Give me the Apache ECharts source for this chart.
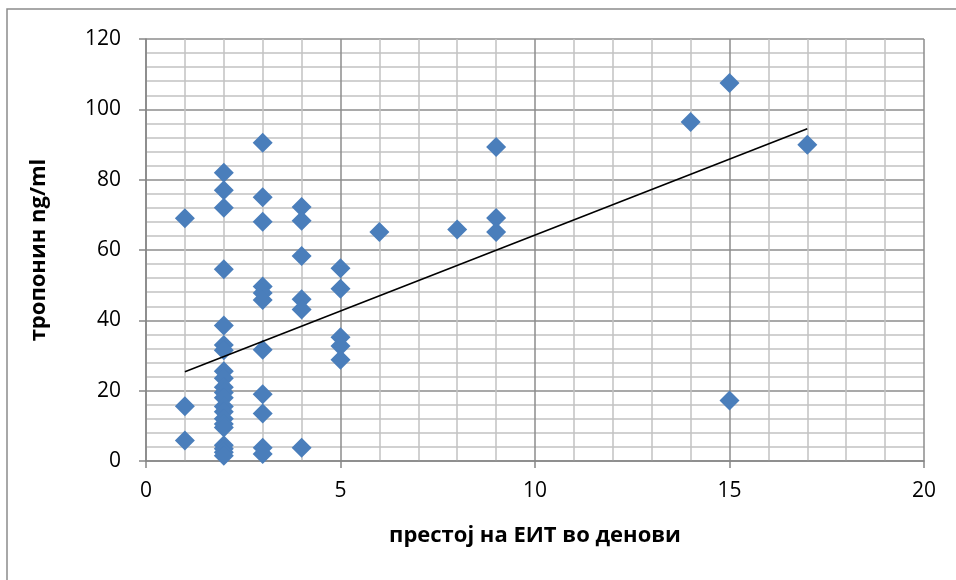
<!DOCTYPE html>
<html>
<head>
<meta charset="utf-8">
<script src="https://cdn.jsdelivr.net/npm/echarts@6/dist/echarts.min.js"></script>
<style>
  html, body { margin: 0; padding: 0; background: #ffffff; }
  #chart { width: 956px; height: 580px; }
</style>
</head>
<body>
<div id="chart"></div>
<script>
// Days in the ICU (x) and troponin level (y) for each patient
const daysInIcu = [
  1, 1, 1,
  2, 2, 2, 2, 2, 2, 2, 2, 2, 2, 2, 2, 2, 2, 2, 2, 2, 2, 2, 2, 2,
  3, 3, 3, 3, 3, 3, 3, 3, 3, 3, 3,
  4, 4, 4, 4, 4, 4,
  5, 5, 5, 5, 5,
  6, 8,
  9, 9, 9,
  14, 15, 15, 17
];
const troponin = [
  69, 15.6, 5.8,
  82, 77, 72, 54.5, 38.5, 33, 31.5, 25.5, 23.5, 21, 19.5, 18, 15.5, 14, 12, 10.5, 9.5, 4.5, 3.5, 2.5, 1.5,
  90.5, 75, 68, 49.6, 47.8, 45.8, 31.6, 19, 13.5, 3.8, 2,
  72.2, 68.3, 58.3, 46, 43.1, 3.8,
  54.8, 49, 35.2, 32.7, 28.8,
  65.1, 65.8,
  89.3, 69.1, 65.1,
  96.4, 107.5, 17.2, 89.9
];

// Linear trend line end points
const trendStart = [1, 25.4];
const trendEnd = [17, 94.5];

// Axis ranges
const xRange = [0, 20];
const yRange = [0, 120];

const points = daysInIcu.map((d, i) => [d, troponin[i]]);

const chart = echarts.init(document.getElementById('chart'));

const labelFont = '"Open Sans", "DejaVu Sans", sans-serif';

chart.setOption({
  animation: false,
  backgroundColor: '#ffffff',
  grid: { left: 146, right: 32, top: 39, bottom: 119, containLabel: false },
  xAxis: {
    type: 'value',
    min: xRange[0],
    max: xRange[1],
    interval: 5,
    name: 'престој на ЕИТ во денови',
    nameLocation: 'middle',
    nameGap: 64,
    nameTextStyle: { fontFamily: labelFont, fontWeight: 'bold', fontSize: 22, color: '#000' },
    axisLine: { show: true, onZero: false, lineStyle: { color: '#868686', width: 1.5 } },
    axisTick: { show: true, length: 7, lineStyle: { color: '#868686', width: 1.5 } },
    axisLabel: { fontFamily: labelFont, fontSize: 21, color: '#000', margin: 20 },
    splitLine: { show: true, lineStyle: { color: '#8c8c8c', width: 1.5 } },
    minorTick: { show: false, splitNumber: 5 },
    minorSplitLine: { show: true, lineStyle: { color: '#c2c2c2', width: 1.5 } }
  },
  yAxis: {
    type: 'value',
    min: yRange[0],
    max: yRange[1],
    interval: 20,
    name: 'тропонин ng/ml',
    nameLocation: 'middle',
    nameGap: 96,
    nameRotate: 90,
    nameTextStyle: { fontFamily: labelFont, fontWeight: 'bold', fontSize: 22, color: '#000' },
    axisLine: { show: true, onZero: false, lineStyle: { color: '#868686', width: 1.5 } },
    axisTick: { show: true, length: 7, lineStyle: { color: '#868686', width: 1.5 } },
    axisLabel: { fontFamily: labelFont, fontSize: 21, color: '#000', margin: 25 },
    splitLine: { show: true, lineStyle: { color: '#8c8c8c', width: 1.5 } },
    minorTick: { show: false, splitNumber: 5 },
    minorSplitLine: { show: true, lineStyle: { color: '#c2c2c2', width: 1.5 } }
  },
  graphic: [
    {
      type: 'rect',
      shape: { x: 7, y: 9, width: 970, height: 600 },
      style: { fill: 'none', stroke: '#8c8c8c', lineWidth: 1.5 },
      z: 100
    }
  ],
  series: [
    {
      type: 'scatter',
      data: points,
      symbol: 'diamond',
      symbolSize: [20, 20],
      itemStyle: { color: '#4a7ebb', opacity: 1 },
      z: 3
    },
    {
      type: 'line',
      data: [trendStart, trendEnd],
      symbol: 'none',
      lineStyle: { color: '#000000', width: 1.6 },
      z: 4
    }
  ]
});
</script>
</body>
</html>
